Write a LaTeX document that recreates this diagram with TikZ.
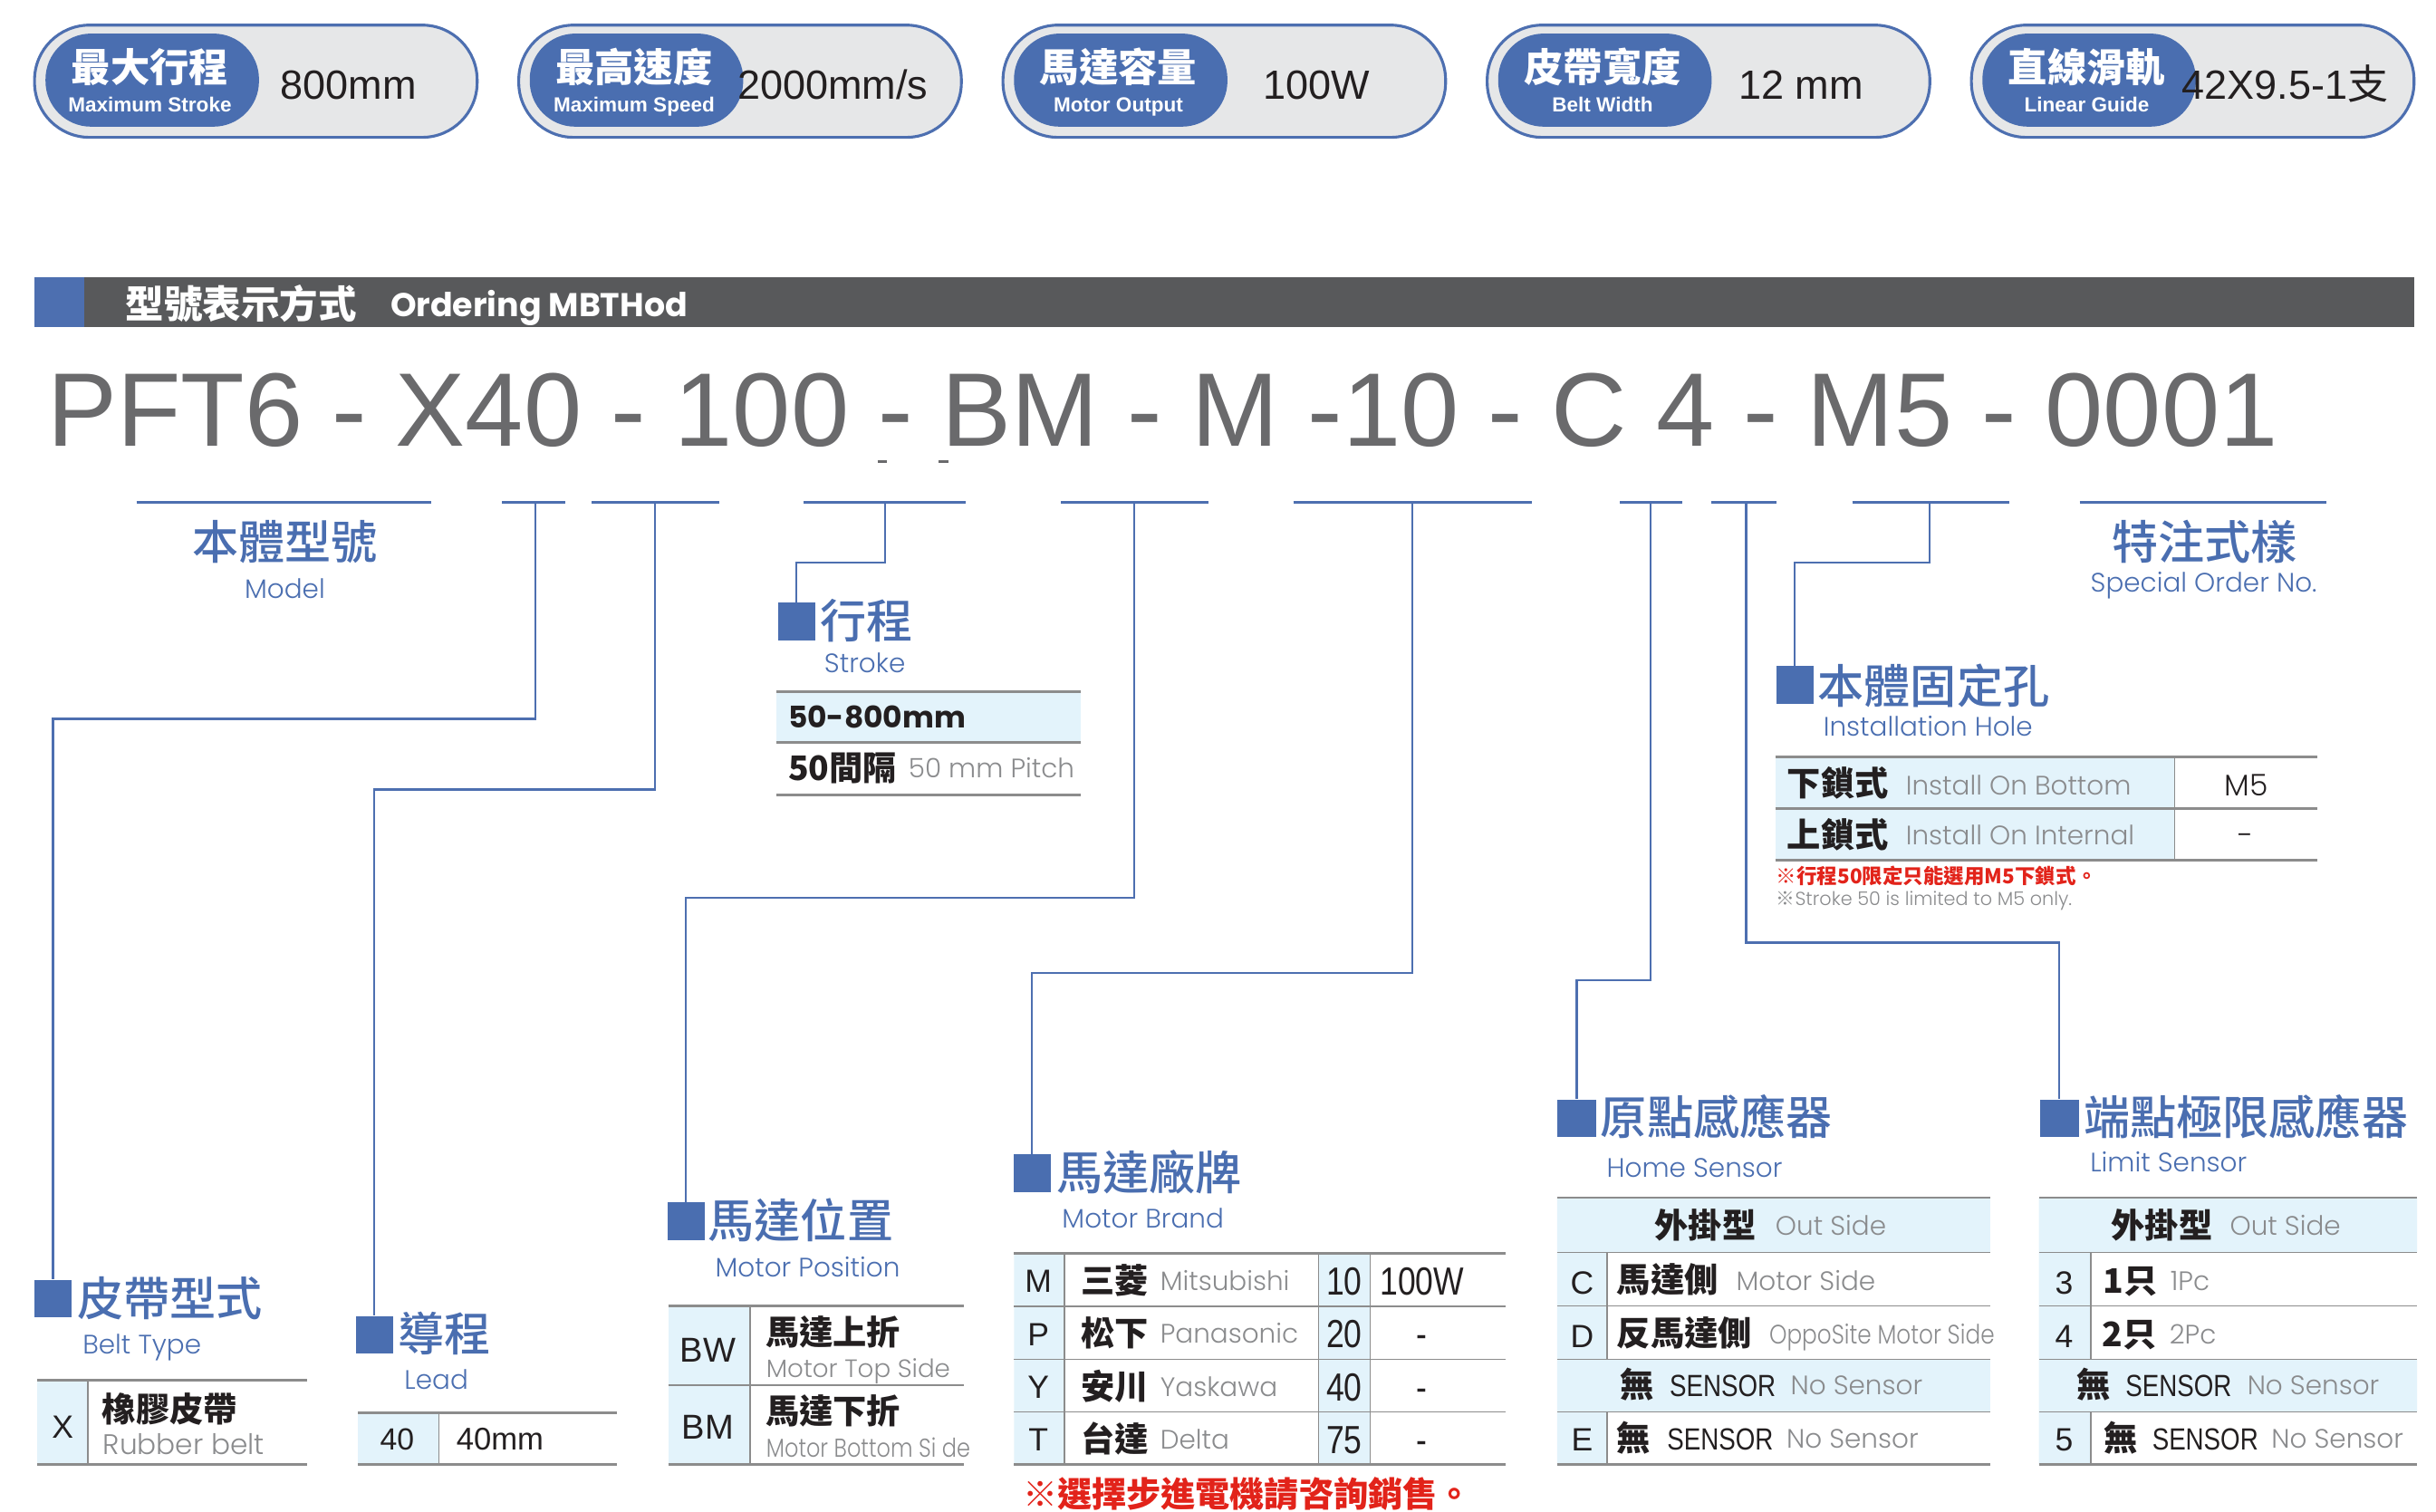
\documentclass[tikz,border=0pt]{standalone}
\usepackage{fontspec}
\newfontfamily\cjk{Noto Sans CJK TC}
\IfFontExistsTF{Noto Sans CJK TC Medium}
  {\newfontfamily\cjkm{Noto Sans CJK TC Medium}}
  {\newfontfamily\cjkm[FakeBold=0.8]{Noto Sans CJK TC}}
\newfontfamily\arial{Liberation Sans}
\newfontfamily\arialn[FakeStretch=0.82]{Liberation Sans}
\IfFontExistsTF{Poppins Light}
  {\newfontfamily\geo{Poppins Light}\newfontfamily\geon[FakeStretch=0.84]{Poppins Light}}
  {\newfontfamily\geo{Poppins}\newfontfamily\geon[FakeStretch=0.84]{Poppins}}
\newfontfamily\geob{Poppins}
\newcommand\fs[1]{\fontsize{#1}{#1}\selectfont}

\definecolor{titleblue}{HTML}{4A6EB0}
\definecolor{lineblue}{HTML}{4D6FB0}
\definecolor{cellblue}{HTML}{E3F3FB}
\definecolor{rulegray}{HTML}{8C8C8C}
\definecolor{engray}{HTML}{8A8B8D}
\definecolor{codegray}{HTML}{6A6A6C}
\definecolor{barbg}{HTML}{58595B}
\definecolor{pillbg}{HTML}{E6E7E8}
\definecolor{notered}{HTML}{E2231A}
\definecolor{inkblack}{HTML}{231F20}

\tikzset{
  txt/.style={inner sep=0pt, text depth=0pt},
  pill/.style={draw=lineblue, line width=1.8pt, fill=pillbg, rounded corners=35pt},
  badgecn/.style={txt, text=white, font=\cjk\bfseries\fs{25}, text height=18pt},
  badgeen/.style={txt, text=white, font=\arial\bfseries\fs{13}, text height=9.4pt},
  badgeval/.style={txt, text=inkblack, font=\arial\fs{26}, text height=18.7pt},
  hdtxt/.style={txt, anchor=west, text=white},
  codetxt/.style={txt, anchor=west, text=codegray, font=\arial\fs{66.6}, text height=48pt},
  uline/.style={draw=lineblue, line width=2.2pt},
  link/.style={draw=lineblue, line width=1.3pt},
  bluebox/.style={fill=titleblue, minimum width=23.5pt, minimum height=24pt, inner sep=0pt},
  cntitle/.style={txt, anchor=west, text=titleblue, font=\cjkm\fs{29.5}, text height=21.2pt},
  entitle/.style={txt, anchor=west, text=titleblue, font=\geo\fs{17}, text height=12.2pt},
  cellcn/.style={txt, anchor=west, text=inkblack, font=\cjk\bfseries\fs{21.5}, text height=15.5pt},
  cellen/.style={txt, anchor=west, text=engray, font=\geo\fs{17}, text height=12.2pt},
  cellkey/.style={txt, text=inkblack, font=\arial\fs{20.5}, text height=14.8pt},
  cellnum/.style={txt, text=inkblack, font=\arialn\fs{25}, text height=18pt},
  cellsen/.style={txt, anchor=west, text=inkblack, font=\arialn\fs{19.5}, text height=14pt},
  trule/.style={draw=rulegray, line width=1.6pt},
  tsep/.style={draw=rulegray, line width=1pt},
  notecn/.style={txt, anchor=west, text=notered, font=\cjk\bfseries\fs{13}, text height=9.4pt},
}

\begin{document}
\begin{tikzpicture}[x=1pt,y=-1pt]
  \useasboundingbox (0,0) rectangle (1552,963);

  % spec badges
  \foreach \cn/\en/\val [count=\i from 0] in {最大行程/Maximum Stroke/800mm, 最高速度/Maximum Speed/{2000mm/s}, 馬達容量/Motor Output/100W, 皮帶寬度/Belt Width/12 mm, 直線滑軌/Linear Guide/{42X9.5-1{\cjk 支}}} {
    \pgfmathsetmacro\bx{22+308.5*\i}
    \draw[pill] (\bx,16) rectangle ++(282,71.5);
    \fill[titleblue, rounded corners=29pt] (\bx+7,21.4) rectangle ++(136,59.3);
    \node[badgecn] (pcn\i) at (\bx+73.5,43) {\cn};
    \node[badgeen] (pen\i) at (\bx+73.5,66.8) {\en};
    \node[badgeval] (pval\i) at (\bx+200,53.7) {\val};
  }

  % header bar
  \fill[barbg] (22,176.5) rectangle (1538,208.5);
  \fill[lineblue] (22,176.5) rectangle (53.7,208.5);
  \node[hdtxt, font=\cjk\bfseries\fs{24.5}, text height=17.6pt] (hdcn) at (80,194) {型號表示方式};
  \node[hdtxt, font=\geob\bfseries\fs{21}, text height=15.1pt] (hden) at (248.6,194) {Ordering MBTHod};

  % model code
  \node[codetxt] (code) at (30,260) {PFT6 - X40 - 100 - BM - M -10 - C 4 - M5 - 0001};
  \draw[codegray, line width=1.5pt] (559,294) -- (565,294) (598,294) -- (604,294);

  % underlines
  \foreach \a/\b in {87/275, 320/360, 377/458, 512/615, 676/770, 824/976, 1032/1072, 1090/1132, 1180/1280, 1325/1482}
    \draw[uline] (\a,320) -- (\b,320);
  \coordinate (tBelt) at (341,320);
  \coordinate (tLead) at (417.5,320);
  \coordinate (tStroke) at (564,320);
  \coordinate (tPos) at (722.5,320);
  \coordinate (tBrand) at (900,320);
  \coordinate (tHome) at (1051.5,320);
  \coordinate (tLimit) at (1112.5,320);
  \coordinate (tHole) at (1229.5,320);

  % model / special order
  \node[cntitle, anchor=center] (cnModel) at (181.5,345.7) {本體型號};
  \node[entitle, anchor=center] (enModel) at (181.5,375) {Model};
  \node[cntitle, anchor=center] (cnSpec) at (1404.5,345.7) {特注式樣};
  \node[entitle, anchor=center] (enSpec) at (1404,371.3) {Special Order No.};

  % stroke
  \node[bluebox] (sqStroke) at (507.5,396) {};
  \node[cntitle] (cnStroke) at (522.5,396) {行程};
  \node[entitle] (enStroke) at (525,422.5) {Stroke};
  \fill[cellblue] (494.7,440.5) rectangle (688.5,473);
  \draw[trule] (494.7,440.5) -- (688.5,440.5) (494.7,473) -- (688.5,473) (494.7,506.5) -- (688.5,506.5);
  \node[txt, anchor=west, text=inkblack, font=\geob\bfseries\fs{19}, text height=13.7pt] (stRange) at (502,456.7) {50-800mm};
  \node[cellcn] (stPitch) at (502,489.5) {50間隔};
  \node[cellen] (stPitchEn) at (578.6,489.5) {50 mm Pitch};

  % installation hole
  \node[bluebox] (sqHole) at (1143.5,436.5) {};
  \node[cntitle] (cnHole) at (1158,437.5) {本體固定孔};
  \node[entitle] (enHole) at (1161.5,463) {Installation Hole};
  \fill[cellblue] (1131,482.3) rectangle (1385.4,548);
  \draw[trule] (1131,482.3) -- (1476.6,482.3) (1131,515) -- (1476.6,515) (1131,548) -- (1476.6,548);
  \draw[tsep] (1385.4,482.3) -- (1385.4,548);
  \node[cellcn] (ihBc) at (1138.5,499.5) {下鎖式};
  \node[cellen] (ihBe) at (1214,500.5) {Install On Bottom};
  \node[txt, text=inkblack, font=\geo\fs{19}, text height=13.7pt] (ihBv) at (1431,500) {M5};
  \node[cellcn] (ihIc) at (1138.5,532) {上鎖式};
  \node[cellen] (ihIe) at (1214,532) {Install On Internal};
  \node[txt, text=inkblack, font=\geo\fs{19}, text height=13.7pt] (ihIv) at (1431,532) {-};
  \node[notecn] (ihNote) at (1131.5,558.5) {※行程50限定只能選用M5下鎖式。};
  \node[txt, anchor=west, text=engray, font=\geo\fs{12}, text height=8.6pt] (ihNoteEn) at (1131.5,572.7) {{\cjk ※}Stroke 50 is limited to M5 only.};

  % belt type
  \node[bluebox] (sqBelt) at (33.8,827.4) {};
  \node[cntitle] (cnBelt) at (49,827.5) {皮帶型式};
  \node[entitle] (enBelt) at (52.5,856.7) {Belt Type};
  \fill[cellblue] (23.7,879.4) rectangle (56,933);
  \draw[trule] (23.7,879.4) -- (195.5,879.4) (23.7,933) -- (195.5,933);
  \draw[tsep] (56,879.4) -- (56,933);
  \node[cellkey] (btK) at (40,909) {X};
  \node[cellcn] (btC) at (65,898) {橡膠皮帶};
  \node[cellen, font=\geo\fs{18}, text height=13pt] (btE) at (65.5,920) {Rubber belt};

  % lead
  \node[bluebox] (sqLead) at (238.5,850.5) {};
  \node[cntitle] (cnLead) at (253.5,850.3) {導程};
  \node[entitle] (enLead) at (257.5,879) {Lead};
  \fill[cellblue] (228,900) rectangle (279.6,933);
  \draw[trule] (228,900) -- (393,900) (228,933) -- (393,933);
  \draw[tsep] (279.6,900) -- (279.6,933);
  \node[cellkey, font=\arial\fs{19.5}] (ldK) at (253,916.5) {40};
  \node[cellkey, anchor=west, font=\arial\fs{20}] (ldV) at (290.6,916.5) {40mm};

  % motor position
  \node[bluebox] (sqPos) at (437,778) {};
  \node[cntitle] (cnPos) at (451,777.8) {馬達位置};
  \node[entitle] (enPos) at (455.5,807.5) {Motor Position};
  \fill[cellblue] (425.7,832) rectangle (478,933);
  \draw[trule] (425.7,832) -- (614,832) (425.7,882.5) -- (614,882.5) (425.7,933) -- (614,933);
  \draw[tsep] (478,832) -- (478,933);
  \node[cellkey, font=\arial\fs{22}] (psKw) at (451,860.5) {BW};
  \node[cellcn] (psWc) at (487.5,849) {馬達上折};
  \node[cellen, font=\geo\fs{16}] (psWe) at (488,871.5) {Motor Top Side};
  \node[cellkey, font=\arial\fs{22}] (psKm) at (451,909.5) {BM};
  \node[cellcn] (psMc) at (487.5,899.5) {馬達下折};
  \node[cellen, font=\geon\fs{16.5}] (psMe) at (488,922.5) {Motor Bottom Si de};

  % motor brand
  \node[bluebox] (sqBrand) at (657.5,747.5) {};
  \node[cntitle] (cnBrand) at (673,747.5) {馬達廠牌};
  \node[entitle] (enBrand) at (676.5,776.5) {Motor Brand};
  \fill[cellblue] (646,798.3) rectangle (678,933) (840,798.3) rectangle (873,933);
  \draw[trule] (646,798.3) -- (959,798.3) (646,933) -- (959,933);
  \draw[tsep] (646,832.4) -- (959,832.4) (646,866) -- (959,866) (646,899.5) -- (959,899.5);
  \draw[tsep] (678,798.3) -- (678,933) (840,798.3) -- (840,933) (873,798.3) -- (873,933);
  \foreach \k/\cn/\en/\pw/\kw [count=\i from 0] in {M/三菱/Mitsubishi/10/100W, P/松下/Panasonic/20/-, Y/安川/Yaskawa/40/-, T/台達/Delta/75/-} {
    \pgfmathsetmacro\ry{816+33.7*\i}
    \node[cellkey] (brK\i) at (661.5,\ry) {\k};
    \node[cellcn] (brC\i) at (688.6,\ry) {\cn};
    \node[cellen] (brE\i) at (739,\ry) {\en};
    \node[cellnum] (brP\i) at (856.5,\ry) {\pw};
    \node[cellnum] (brW\i) at (906,\ry) {\kw};
  }
  \node[notecn, font=\cjk\bfseries\fs{22}, text height=15.8pt] (brNote) at (651.5,952) {※選擇步進電機請咨詢銷售。};

  % home sensor
  \node[bluebox, minimum width=25pt] (sqHome) at (1004.5,712.5) {};
  \node[cntitle] (cnHome) at (1019.6,712.5) {原點感應器};
  \node[entitle] (enHome) at (1023.5,744) {Home Sensor};
  \fill[cellblue] (992,763) rectangle (1268,798) (992,866) rectangle (1268,899.5)
    (992,798) rectangle (1024,866) (992,899.5) rectangle (1024,933);
  \draw[trule] (992,763) -- (1268,763) (992,933) -- (1268,933);
  \draw[tsep] (992,798) -- (1268,798) (992,832) -- (1268,832) (992,866) -- (1268,866) (992,899.5) -- (1268,899.5);
  \draw[tsep] (1024,798) -- (1024,866) (1024,899.5) -- (1024,933);
  \node[cellcn] (hoHc) at (1054,781) {外掛型};
  \node[cellen] (hoHe) at (1131,781) {Out Side};
  \node[cellkey] (hoKc) at (1008,817) {C};
  \node[cellcn] (hoCc) at (1030,815.5) {馬達側};
  \node[cellen] (hoCe) at (1106,816) {Motor Side};
  \node[cellkey] (hoKd) at (1008,851) {D};
  \node[cellcn] (hoDc) at (1030,849.5) {反馬達側};
  \node[cellen, font=\geon\fs{17}] (hoDe) at (1127,850) {OppoSite Motor Side};
  \node[cellcn] (hoNc) at (1032,882.5) {無};
  \node[cellsen] (hoNs) at (1063.6,882.5) {SENSOR};
  \node[cellen] (hoNe) at (1140.6,882.5) {No Sensor};
  \node[cellkey] (hoKe) at (1008,917) {E};
  \node[cellcn] (hoEc) at (1030,916.5) {無};
  \node[cellsen] (hoEs) at (1062,916.5) {SENSOR};
  \node[cellen] (hoEe) at (1138,916.5) {No Sensor};

  % limit sensor
  \node[bluebox, minimum width=25pt] (sqLimit) at (1312,712.5) {};
  \node[cntitle] (cnLimit) at (1327.5,712.5) {端點極限感應器};
  \node[entitle] (enLimit) at (1331.5,740.5) {Limit Sensor};
  \fill[cellblue] (1299,763) rectangle (1540,798) (1299,866) rectangle (1540,899.5)
    (1299,798) rectangle (1332,866) (1299,899.5) rectangle (1332,933);
  \draw[trule] (1299,763) -- (1540,763) (1299,933) -- (1540,933);
  \draw[tsep] (1299,798) -- (1540,798) (1299,832) -- (1540,832) (1299,866) -- (1540,866) (1299,899.5) -- (1540,899.5);
  \draw[tsep] (1332,798) -- (1332,866) (1332,899.5) -- (1332,933);
  \node[cellcn] (liHc) at (1345,781) {外掛型};
  \node[cellen] (liHe) at (1420.5,781) {Out Side};
  \node[cellkey] (liK3) at (1315,817) {3};
  \node[cellcn] (li3c) at (1339.6,816) {1只};
  \node[cellen] (li3e) at (1382.6,816) {1Pc};
  \node[cellkey] (liK4) at (1315,851) {4};
  \node[cellcn] (li4c) at (1339,850) {2只};
  \node[cellen] (li4e) at (1382,850) {2Pc};
  \node[cellcn] (liNc) at (1323,882.5) {無};
  \node[cellsen] (liNs) at (1354,882.5) {SENSOR};
  \node[cellen] (liNe) at (1431.6,882.5) {No Sensor};
  \node[cellkey] (liK5) at (1315,917) {5};
  \node[cellcn] (li5c) at (1340,916.5) {無};
  \node[cellsen] (li5s) at (1371,916.5) {SENSOR};
  \node[cellen] (li5e) at (1447,916.5) {No Sensor};

  % connectors
  \draw[link] (tBelt) -- ++(0,138) -| (sqBelt);
  \draw[link] (tLead) -- ++(0,183) -| (sqLead);
  \draw[link] (tStroke) -- ++(0,38.5) -| (sqStroke);
  \draw[link] (tPos) -- ++(0,252) -| (sqPos);
  \draw[link] (tBrand) -- ++(0,300) -| (sqBrand);
  \draw[link] (tHome) -- ++(0,304.5) -| (sqHome);
  \draw[link] (tLimit) -- ++(0,280.5) -| (sqLimit);
  \draw[link] (tHole) -- ++(0,38.5) -| (sqHole);
\end{tikzpicture}
\end{document}
